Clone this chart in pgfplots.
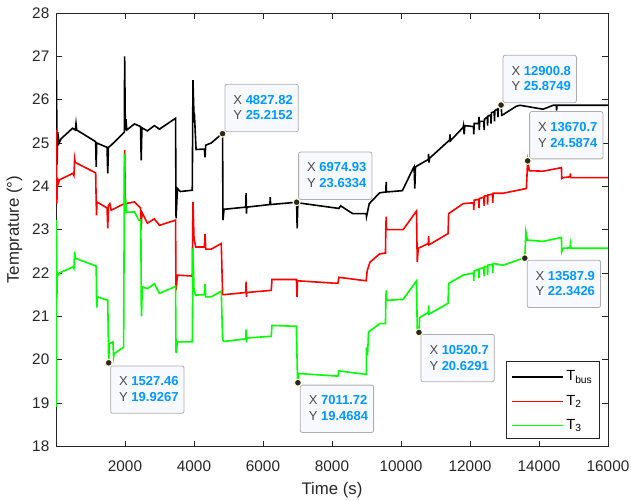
\documentclass[border=0pt]{standalone}
\usepackage{pgfplots}
\pgfplotsset{compat=1.18}
\usepackage{fontspec}
\setmainfont{Liberation Sans}
\definecolor{axgray}{rgb}{0.15,0.15,0.15}
\definecolor{tipblue}{rgb}{0,0.6,1}
\definecolor{tipfill}{rgb}{0.973,0.973,1}
\definecolor{tipedge}{rgb}{0.68,0.68,0.68}
\definecolor{tiphalo}{RGB}{255,250,205}
\definecolor{tipgray}{rgb}{0.3,0.3,0.3}
\definecolor{mgreen}{rgb}{0,1,0}

\tikzset{
  tipbox/.style={draw=tipedge, fill=tipfill, rounded corners=1.5pt, line width=0.6pt,
    minimum width=55pt, minimum height=35.5pt, inner sep=0pt},
  tipx/.style={anchor=base west, inner sep=0pt, text=tipgray, font=\fontsize{9.75}{12}\selectfont},
  tipv/.style={anchor=base west, inner sep=0pt, text=tipblue, font=\fontsize{9.75}{12}\selectfont\bfseries},
  legtext/.style={anchor=west, inner sep=0pt, text=black, font=\fontsize{11}{12}\selectfont},
}
% anchor, xshift, yshift, x, y
\newcommand{\tipnode}[5]{%
  \node[tipbox, anchor=#1, xshift=#2, yshift=#3] (tb) at (axis cs:#4,#5) {};
  \node[tipx] at ([xshift=6.5pt,yshift=-15.2pt]tb.north west) {X};
  \node[tipv] at ([xshift=15.7pt,yshift=-15.2pt]tb.north west) {#4};
  \node[tipx] at ([xshift=6.5pt,yshift=-27pt]tb.north west) {Y};
  \node[tipv] at ([xshift=15.7pt,yshift=-27pt]tb.north west) {#5};
}

\begin{document}
\begin{tikzpicture}
\begin{axis}[
  scale only axis, width=414pt, height=325pt,
  xmin=0, xmax=16000, ymin=18, ymax=28,
  xtick={2000,4000,...,16000}, ytick={18,19,...,28},
  scaled x ticks=false,
  tick align=inside, major tick length=4.2pt,
  axis line style={axgray, line width=0.6pt},
  tick style={axgray, line width=0.6pt},
  ticklabel style={font=\fontsize{11.5}{13}\selectfont, text=axgray},
  xticklabel style={yshift=-7pt},
  yticklabel style={xshift=-1.5pt},
  /pgf/number format/1000 sep={},
  /pgf/number format/assume math mode=true,
  label style={font=\fontsize{12.6}{14}\selectfont, text=axgray},
  xlabel={Time (s)}, ylabel={Temprature (°)},
  xlabel style={yshift=-1.8pt},
  ylabel style={yshift=0.5pt},
  clip=true,
]
% T_bus
\addplot[black, line width=1.2pt] coordinates {
(0,25.1) (15,26.45) (30,24.5) (50,25.25) (90,25.0) (150,25.1) (480,25.34) (560,25.30)
(580,25.45) (600,25.3) (1150,25.03) (1165,24.45) (1180,25.0) (1480,24.9) (1500,24.3)
(1520,24.9) (1600,24.95) (1980,25.25) (1990,27.0) (2010,25.3) (2030,25.55) (2050,25.3)
(2275,25.44) (2450,25.38) (2470,24.6) (2490,25.35) (2650,25.28) (2850,25.4) (3000,25.32)
(3465,25.57) (3480,23.26) (3520,23.95) (3600,23.88) (3950,23.91) (3970,26.45) (4000,25.6)
(4010,25.7) (4060,24.85) (4300,24.86) (4320,24.67) (4340,24.95) (4500,25.0) (4790,25.2)
(4828,25.215) (4840,23.22) (4870,23.47) (5500,23.52) (5510,23.84) (5520,23.37) (5530,23.52)
(6200,23.58) (6210,23.75) (6220,23.58) (6975,23.633) (6990,23.03) (7010,23.62) (8200,23.49)
(8250,23.55) (8600,23.37) (8990,23.37) (9000,23.3) (9080,23.6) (9380,23.85) (9560,23.87)
(9570,24.1) (9580,23.87) (10040,23.9) (10350,24.41) (10380,24.45) (10400,23.95) (10420,24.45)
(10790,24.62) (10800,24.75) (10810,24.55) (10830,24.65) (11410,25.07) (11420,25.2)
(11430,25.05) (11800,25.36) (11810,25.4) (11830,25.2) (11850,25.4) (12100,25.38)
(12110,25.2) (12120,25.45) (12250,25.45) (12260,25.6) (12270,25.3) (12280,25.5)
(12400,25.5) (12410,25.3) (12420,25.55) (12500,25.6) (12510,25.4) (12520,25.62)
(12600,25.65) (12610,25.45) (12620,25.7) (12700,25.72) (12710,25.5) (12720,25.75)
(12800,25.78) (12810,25.6) (12820,25.8) (12880,25.85) (12901,25.875) (12920,25.64)
(12950,25.65) (13345,25.85) (13450,25.87) (14120,25.78) (14410,25.87) (14500,25.87)
(14510,25.75) (14520,25.87) (16000,25.87)
};
% T_2
\addplot[red, line width=1.2pt] coordinates {
(0,24.0) (10,25.3) (25,23.6) (40,24.2) (60,24.05) (100,24.15) (490,24.3) (520,24.25)
(540,24.64) (560,24.55) (1150,24.31) (1165,23.64) (1175,23.33) (1185,23.64) (1480,23.5)
(1500,23.03) (1520,23.55) (1560,23.6) (1600,23.45) (1980,23.6) (1990,24.84) (2010,23.6)
(2275,23.64) (2450,23.5) (2470,23.0) (2490,23.4) (2650,23.15) (2850,23.25) (3000,23.1)
(3465,23.22) (3480,21.6) (3520,21.95) (3950,21.93) (3970,23.64) (4000,22.8) (4050,22.6)
(4300,22.6) (4320,22.9) (4340,22.55) (4500,22.55) (4790,22.68) (4830,21.5) (4870,21.5)
(5500,21.55) (5510,21.8) (5520,21.45) (5530,21.55) (6240,21.6) (6260,21.85) (6970,21.85)
(6985,21.45) (7000,21.82) (8170,21.76) (8200,21.9) (8990,21.82) (9020,22.05) (9100,22.25)
(9380,22.44) (9550,22.46) (9560,23.0) (9570,23.3) (9580,23.0) (10060,23.0) (10450,23.43)
(10470,22.26) (10500,22.57) (10790,22.68) (10800,22.85) (10810,22.65) (11365,22.91)
(11380,23.37) (11800,23.6) (12100,23.62) (12110,23.45) (12120,23.68) (12250,23.7)
(12260,23.5) (12270,23.72) (12400,23.75) (12410,23.55) (12420,23.78) (12500,23.78)
(12510,23.58) (12520,23.8) (12650,23.82) (12660,23.62) (12670,23.84) (12960,23.84)
(13635,23.95) (13670,24.587) (13720,24.36) (14120,24.35) (14650,24.43)
(14660,24.18) (14700,24.2) (14900,24.22) (14910,24.3) (14920,24.2) (16000,24.2)
};
% T_3
\addplot[mgreen, line width=1.2pt] coordinates {
(0,18.91) (10,23.22) (25,21.42) (40,22.0) (60,21.95) (100,22.0) (490,22.14) (520,22.1)
(540,22.49) (560,22.34) (1165,22.16) (1175,21.45) (1185,21.2) (1195,21.45) (1500,21.37)
(1527,19.927) (1545,20.37) (1650,20.41) (1670,20.06) (1690,20.14) (1960,20.29) (1985,24.75)
(2000,23.45) (2020,23.7) (2040,23.4) (2275,23.41) (2400,23.22) (2460,23.22) (2470,21.33)
(2480,21.0) (2500,21.68) (2650,21.64) (2850,21.75) (3000,21.53) (3465,21.69) (3480,20.15)
(3520,20.41) (3950,20.41) (3970,22.57) (4000,21.6) (4050,21.49) (4300,21.5) (4320,21.75)
(4340,21.45) (4500,21.45) (4790,21.58) (4830,20.45) (4870,20.42) (5500,20.48) (5510,20.7)
(5520,20.4) (5530,20.5) (6240,20.54) (6260,20.79) (6966,20.77) (7000,19.56) (7012,19.468)
(7030,19.68) (8170,19.62) (8200,19.74) (8995,19.66) (9000,20.28) (9030,20.1) (9060,20.64)
(9380,20.83) (9550,20.83) (9560,21.37) (9570,21.6) (9580,21.37) (10060,21.39) (10450,21.82)
(10470,20.72) (10521,20.629) (10540,20.97) (10790,21.09) (10800,21.25) (10810,21.05)
(11365,21.3) (11380,21.76) (11800,21.95) (12100,22.0) (12110,21.82) (12120,22.05)
(12250,22.08) (12260,21.88) (12270,22.1) (12400,22.12) (12410,21.92) (12420,22.15)
(12500,22.15) (12510,21.95) (12520,22.18) (12650,22.2) (12660,22.0) (12670,22.22)
(12960,22.18) (13540,22.34) (13588,22.343) (13620,22.95)
(13660,22.76) (14120,22.73) (14650,22.82) (14660,22.49) (14700,22.57) (14900,22.58)
(14910,22.65) (14920,22.57) (16000,22.57)
};

% legend
\draw[axgray, line width=0.6pt, fill=white] (rel axis cs:0.8165,0.0178) rectangle (rel axis cs:0.9842,0.1963);
\draw[black, line width=1.2pt] (rel axis cs:0.826,0.1600) -- (rel axis cs:0.918,0.1600);
\draw[red, line width=1.2pt] (rel axis cs:0.826,0.1039) -- (rel axis cs:0.918,0.1039);
\draw[mgreen, line width=1.2pt] (rel axis cs:0.826,0.0485) -- (rel axis cs:0.918,0.0485);
\node[legtext] at (rel axis cs:0.924,0.1600) {T\textsubscript{bus}};
\node[legtext] at (rel axis cs:0.924,0.1039) {T\textsubscript{2}};
\node[legtext] at (rel axis cs:0.924,0.0485) {T\textsubscript{3}};

% data tips
\tipnode{south west}{1.5pt}{1.2pt}{4827.82}{25.2152}
\tipnode{south west}{1.2pt}{1.8pt}{6974.93}{23.6334}
\tipnode{south west}{1.2pt}{1.5pt}{12900.8}{25.8749}
\tipnode{south west}{1.2pt}{1.2pt}{13670.7}{24.5874}
\tipnode{north west}{1.2pt}{-2pt}{1527.46}{19.9267}
\tipnode{north west}{1.5pt}{-1.5pt}{7011.72}{19.4684}
\tipnode{north west}{1.2pt}{-1.2pt}{10520.7}{20.6291}
\tipnode{north west}{1.5pt}{-1.2pt}{13587.9}{22.3426}
\addplot[only marks, mark=*, mark size=2.6pt, mark options={fill=black!85, draw=tiphalo, line width=0.8pt}, forget plot] coordinates {
(4827.82,25.2152) (6974.93,23.6334) (12900.8,25.8749) (13670.7,24.5874)
(1527.46,19.9267) (7011.72,19.4684) (10520.7,20.6291) (13587.9,22.3426)
};
\end{axis}
\pgfresetboundingbox
\path[use as bounding box] ([xshift=-42pt,yshift=-39.75pt]current axis.south west) rectangle ([xshift=17.25pt,yshift=9.75pt]current axis.north east);
\end{tikzpicture}
\end{document}
